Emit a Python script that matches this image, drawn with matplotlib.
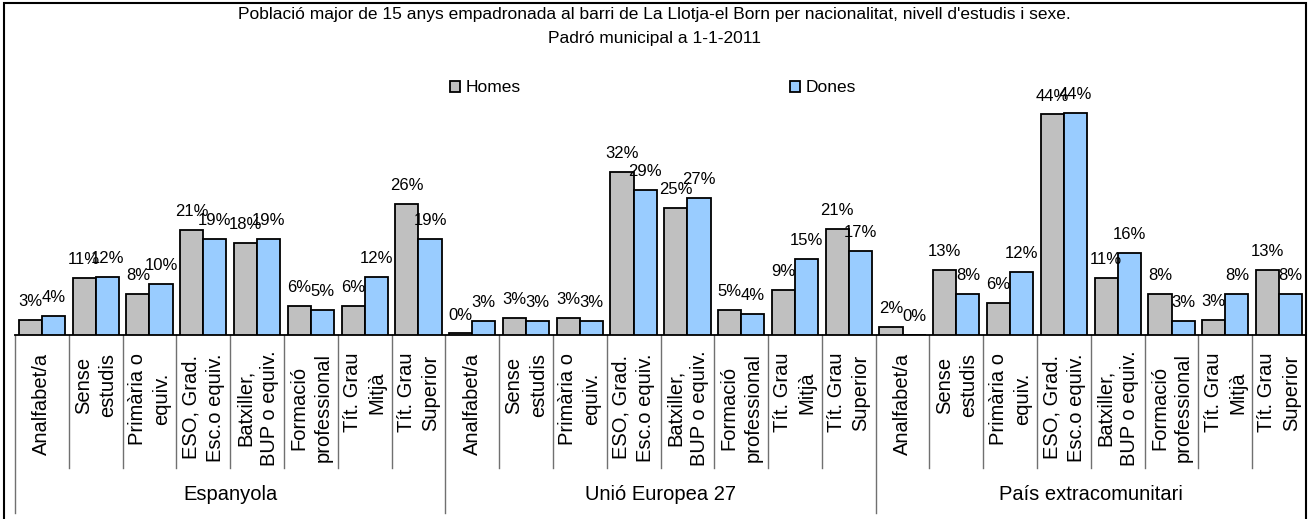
import matplotlib
matplotlib.use("Agg")
import matplotlib.pyplot as plt
from matplotlib.patches import Patch, Rectangle
from matplotlib.lines import Line2D
import matplotlib.transforms as mtransforms

plt.rcParams['font.family'] = ['Liberation Sans', 'DejaVu Sans']

# ---------------- data ----------------
title_lines = ["Població major de 15 anys empadronada al barri de La Llotja-el Born per nacionalitat, nivell d'estudis i sexe.",
               "Padró municipal a 1-1-2011"]
groups = ["Espanyola", "Unió Europea 27", "País extracomunitari"]
levels = ["Analfabet/a", "Sense\nestudis", "Primària o\nequiv.", "ESO, Grad.\nEsc.o equiv.",
          "Batxiller,\nBUP o equiv.", "Formació\nprofessional", "Tít. Grau\nMitjà", "Tít. Grau\nSuperior"]
series_names = ["Homes", "Dones"]
homes_esp = [3.0, 11.2, 8.1, 20.8, 18.1, 5.8, 5.8, 25.9]
dones_esp = [3.8, 11.5, 10.0, 18.9, 18.9, 4.9, 11.5, 18.9]
homes_ue = [0.3, 3.4, 3.4, 32.1, 25.1, 5.0, 8.9, 20.9]
dones_ue = [2.7, 2.7, 2.7, 28.6, 27.1, 4.2, 15.0, 16.6]
homes_ext = [1.6, 12.8, 6.4, 43.5, 11.2, 8.1, 3.0, 12.8]
dones_ext = [0.0, 8.1, 12.4, 43.8, 16.2, 2.7, 8.1, 8.1]
colors = ["#C0C0C0", "#99CCFF"]

homes = homes_esp + homes_ue + homes_ext
dones = dones_esp + dones_ue + dones_ext
cats = levels * len(groups)
n = len(cats)

# ---------------- figure ----------------
W, H = 1308, 519
fig = plt.figure(figsize=(W / 100, H / 100), dpi=100)

def fy(py):
    return 1 - py / H

x0, x1 = 15, 1306
base_y = 335
top_y = 81.5
ax = fig.add_axes([x0 / W, fy(base_y), (x1 - x0) / W, (base_y - top_y) / H])
ax.set_xlim(0, n)
ax.set_ylim(0, 50)
for s in ["left", "right", "top"]:
    ax.spines[s].set_visible(False)
ax.spines["bottom"].set_linewidth(1.3)
ax.set_xticks([])
ax.set_yticks([])
ax.patch.set_alpha(0)

bw = 0.43
xs = [i + 0.5 for i in range(n)]
b1 = ax.bar([x - bw / 2 for x in xs], homes, width=bw, color=colors[0], edgecolor="black", linewidth=1.3, zorder=3)
b2 = ax.bar([x + bw / 2 for x in xs], dones, width=bw, color=colors[1], edgecolor="black", linewidth=1.3, zorder=3)

for bars, vals in ((b1, homes), (b2, dones)):
    for rect, v in zip(bars, vals):
        ax.annotate(f"{v:.0f}%", (rect.get_x() + rect.get_width() / 2, v),
                    xytext=(0, 10), textcoords="offset points", ha="center", va="baseline",
                    fontsize=12, clip_on=False, zorder=5)

# category axis: ticks and labels
trans = mtransforms.blended_transform_factory(ax.transData, fig.transFigure)
for k in range(n):
    is_group = (k % len(levels) == 0)
    yb = 513 if is_group else 468
    ax.add_line(Line2D([k, k], [fy(base_y), fy(yb)], transform=trans, color="#707070",
                       linewidth=1.0, clip_on=False))

texts = []
for i, lab in enumerate(cats):
    t = ax.text(i + 0.5, fy(353), lab, transform=trans, rotation=90, ha="center", va="top",
                multialignment="center", fontsize=14.5, linespacing=1.35, clip_on=False)
    texts.append(t)

for g, name in enumerate(groups):
    ax.text(g * len(levels) + len(levels) / 2, fy(495), name, transform=trans, ha="center",
            va="center", fontsize=14.5, clip_on=False)

# title
fig.text(654 / W, fy(14), title_lines[0], ha="center", va="center", fontsize=12.5)
fig.text(654 / W, fy(39), title_lines[1], ha="center", va="center", fontsize=12.5)

# legend
handles = [Patch(facecolor=c, edgecolor="black", linewidth=1.3) for c in colors]
fig.legend(handles, series_names, loc="center left", bbox_to_anchor=(450 / W, fy(88)),
           ncol=2, frameon=False, fontsize=12.5, handlelength=0.6, handleheight=0.6,
           handletextpad=0.3, columnspacing=15.5, borderpad=0, borderaxespad=0)

# outer border
fig.add_artist(Rectangle((4 / W, fy(530)), (1306 - 4) / W, (530 - 3) / H, transform=fig.transFigure,
                         fill=False, edgecolor="black", linewidth=1.5))

# keep long rotated labels inside the label band
fig.canvas.draw()
r = fig.canvas.get_renderer()
for t in texts:
    bb = t.get_window_extent(r)
    bottom_px = H - bb.y0
    if bottom_px > 466:
        shift = bottom_px - 466
        x, y = t.get_position()
        t.set_position((x, y + shift / H))

fig.savefig("out.png", dpi=100)
